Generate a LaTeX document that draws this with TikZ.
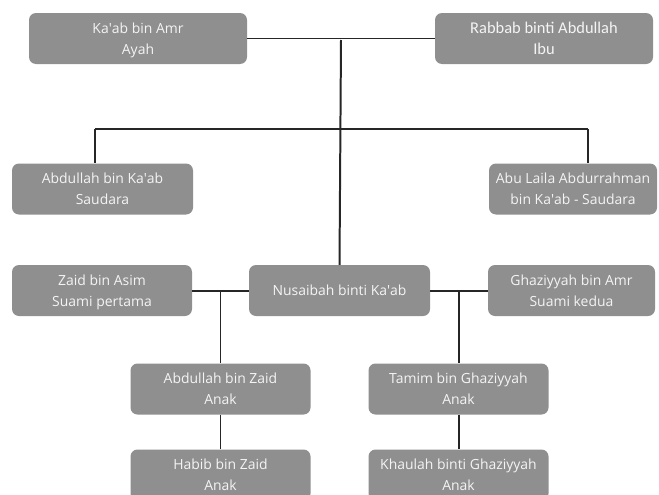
\documentclass[tikz,border=0pt]{standalone}
\usepackage{fontspec}
\setmainfont{Open Sans}
\newfontfamily\ibufont{Carlito}
\usepackage{tikz}
\usetikzlibrary{positioning}
\definecolor{boxgray}{HTML}{8F8F8F}
\definecolor{boxtext}{HTML}{F4F4F4}
\newcommand{\ap}{\textquotesingle}

\begin{document}
\begin{tikzpicture}[
  person/.style={draw=none,fill=boxgray,text=boxtext,rounded corners=7bp,align=center,
    inner sep=0pt,minimum height=51bp,text depth=0pt,font=\fontsize{14}{21}\selectfont},
  link/.style={line width=2pt,black!85}]
\useasboundingbox (0bp,0bp) rectangle (659bp,-495bp);

% generation 1
\node (ayah) at (138bp,-38.5bp)[person,minimum width=218bp] {Ka\ap ab bin Amr\\Ayah};
\node (ibu) at (544bp,-38.5bp)[person,minimum width=218bp,font=\ibufont\fontsize{16.5}{21}\selectfont] {Rabbab binti Abdullah\\Ibu};

% saudara
\node (sdr1) at (102.5bp,-189bp)[person,minimum width=181bp] {Abdullah bin Ka\ap ab\\Saudara};
\node (sdr2) at (573bp,-189bp)[person,minimum width=168bp] {Abu Laila Abdurrahman\\bin Ka\ap ab - Saudara};

% generation 2
\node (nusaibah) at (339.5bp,-290.5bp)[person,minimum width=181bp] {Nusaibah binti Ka\ap ab};
\node (suami1) at (102bp,-290.5bp)[person,minimum width=180bp] {Zaid bin Asim\\Suami pertama};
\node (suami2) at (571.5bp,-290.5bp)[person,minimum width=167bp] {Ghaziyyah bin Amr\\Suami kedua};

% anak
\node (anak1) at (220.5bp,-389bp)[person,minimum width=180bp] {Abdullah bin Zaid\\Anak};
\node (anak2) at (220.5bp,-475bp)[person,minimum width=180bp] {Habib bin Zaid\\Anak};
\node (anak3) at (458.5bp,-389bp)[person,minimum width=180bp] {Tamim bin Ghaziyyah\\Anak};
\node (anak4) at (458.5bp,-475bp)[person,minimum width=180bp] {Khaulah binti Ghaziyyah\\Anak};

% junctions
\coordinate (top) at (341bp,-40bp);
\coordinate (mid) at (341bp,-129bp);
\coordinate (midL) at (95bp,-129bp);
\coordinate (midR) at (588bp,-129bp);
\coordinate (jL) at (220.5bp,-290.5bp);
\coordinate (jR) at (458.5bp,-290.5bp);

\draw [link] (ayah.east) -- (ibu.west);
\draw [link] (top) -- (nusaibah.north);
\draw [link] (midL) -- (midR);
\draw [link] (midL) -- (midL |- sdr1.north);
\draw [link] (midR) -- (midR |- sdr2.north);
\draw [link] (suami1.east) -- (nusaibah.west);
\draw [link] (nusaibah.east) -- (suami2.west);
\draw [link] (jL) -- (anak1.north);
\draw [link] (jR) -- (anak3.north);
\draw [link] (anak1) -- (anak2);
\draw [link] (anak3) -- (anak4);
\end{tikzpicture}
\end{document}
